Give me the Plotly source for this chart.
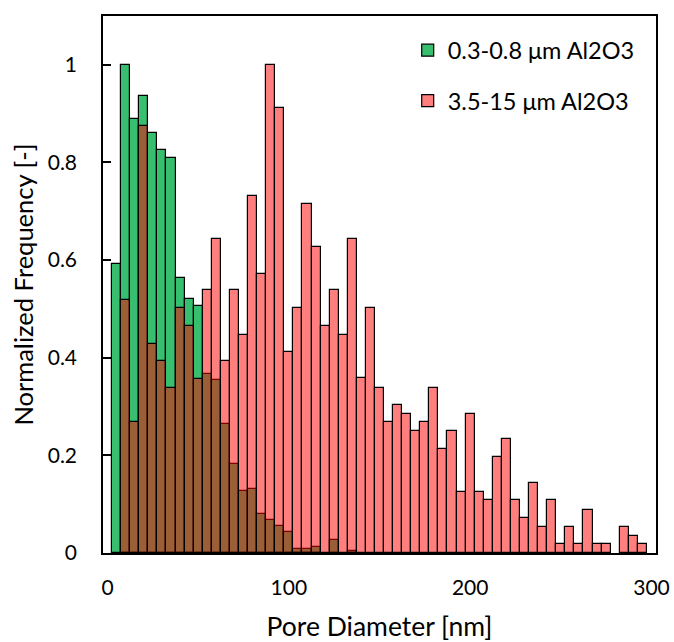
import plotly.graph_objects as go

# Category positions (nm): 0, 5, ..., 300
diameters = list(range(0, 305, 5))

fine_al2o3 = [0, 0.592, 1.0, 0.890, 0.937, 0.861, 0.826, 0.809, 0.563, 0.520,
              0.506, 0.367, 0.354, 0.265, 0.183, 0.128, 0.132, 0.080, 0.068, 0.056,
              0.043, 0.009, 0.009, 0.013, 0, 0.026, 0, 0.005, 0, 0,
              0, 0, 0, 0, 0, 0, 0, 0, 0, 0,
              0, 0, 0, 0, 0, 0, 0, 0, 0, 0,
              0, 0, 0, 0, 0, 0, 0, 0, 0, 0, 0]

coarse_al2o3 = [0, 0, 0.518, 0.268, 0.875, 0.428, 0.393, 0.339, 0.501, 0.464,
                0.357, 0.538, 0.643, 0.393, 0.538, 0.447, 0.732, 0.572, 1.0, 0.911,
                0.411, 0.501, 0.715, 0.626, 0.464, 0.538, 0.447, 0.643, 0.358, 0.501,
                0.339, 0.268, 0.304, 0.285, 0.250, 0.268, 0.339, 0.214, 0.250, 0.125,
                0.285, 0.125, 0.109, 0.197, 0.233, 0.108, 0.071, 0.144, 0.054, 0.108,
                0.018, 0.054, 0.018, 0.089, 0.018, 0.018, 0, 0.054, 0.035, 0.018, 0]

x_ticks = [0, 100, 200, 300]
y_ticks = [0, 0.2, 0.4, 0.6, 0.8, 1]
y_tick_labels = ["0", "0.2", "0.4", "0.6", "0.8", "1"]

FONT = "Lato"


def nz(vals):
    return [v if v else None for v in vals]


fig = go.Figure()
fig.add_trace(go.Bar(
    x=diameters, y=nz(fine_al2o3), width=5, name="0.3-0.8 μm Al2O3",
    marker=dict(color="rgb(55,190,110)", line=dict(color="black", width=1.2)),
    legendgroup="a",
))
fig.add_trace(go.Bar(
    x=diameters, y=nz(coarse_al2o3), width=5, name="3.5-15 μm Al2O3",
    marker=dict(color="rgba(255,0,0,0.5)", line=dict(color="black", width=1.2)),
    legendgroup="b",
))

fig.update_layout(
    width=674, height=642,
    margin=dict(l=103, r=18, t=16, b=89),
    barmode="overlay", bargap=0,
    plot_bgcolor="white", paper_bgcolor="white",
    font=dict(family=FONT, color="black", size=21),
    legend=dict(x=0.551, y=0.977, xanchor="left", yanchor="top",
                font=dict(size=23.5, family=FONT), bgcolor="rgba(0,0,0,0)",
                tracegroupgap=17, traceorder="grouped"),
    xaxis=dict(range=[-2.5, 302.5], tickvals=x_ticks, showgrid=False, zeroline=False,
               showline=True, linecolor="black", linewidth=1.5, mirror=True,
               ticks="", ticklabelstandoff=15, automargin=False,
               tickfont=dict(size=21, family=FONT),
               title=dict(text="Pore Diameter [nm]", font=dict(size=26.5, family=FONT), standoff=21)),
    yaxis=dict(range=[0, 1.1], tickvals=y_ticks, ticktext=y_tick_labels, showgrid=False,
               zeroline=False, showline=True, linecolor="black", linewidth=1.5, mirror=True,
               ticks="inside", ticklen=8, tickwidth=1.5, tickcolor="black", ticklabelstandoff=20,
               automargin=False,
               tickfont=dict(size=21, family=FONT),
               title=dict(text="Normalized Frequency [-]", font=dict(size=25.5, family=FONT), standoff=7)),
)

fig.write_html("out.html")
